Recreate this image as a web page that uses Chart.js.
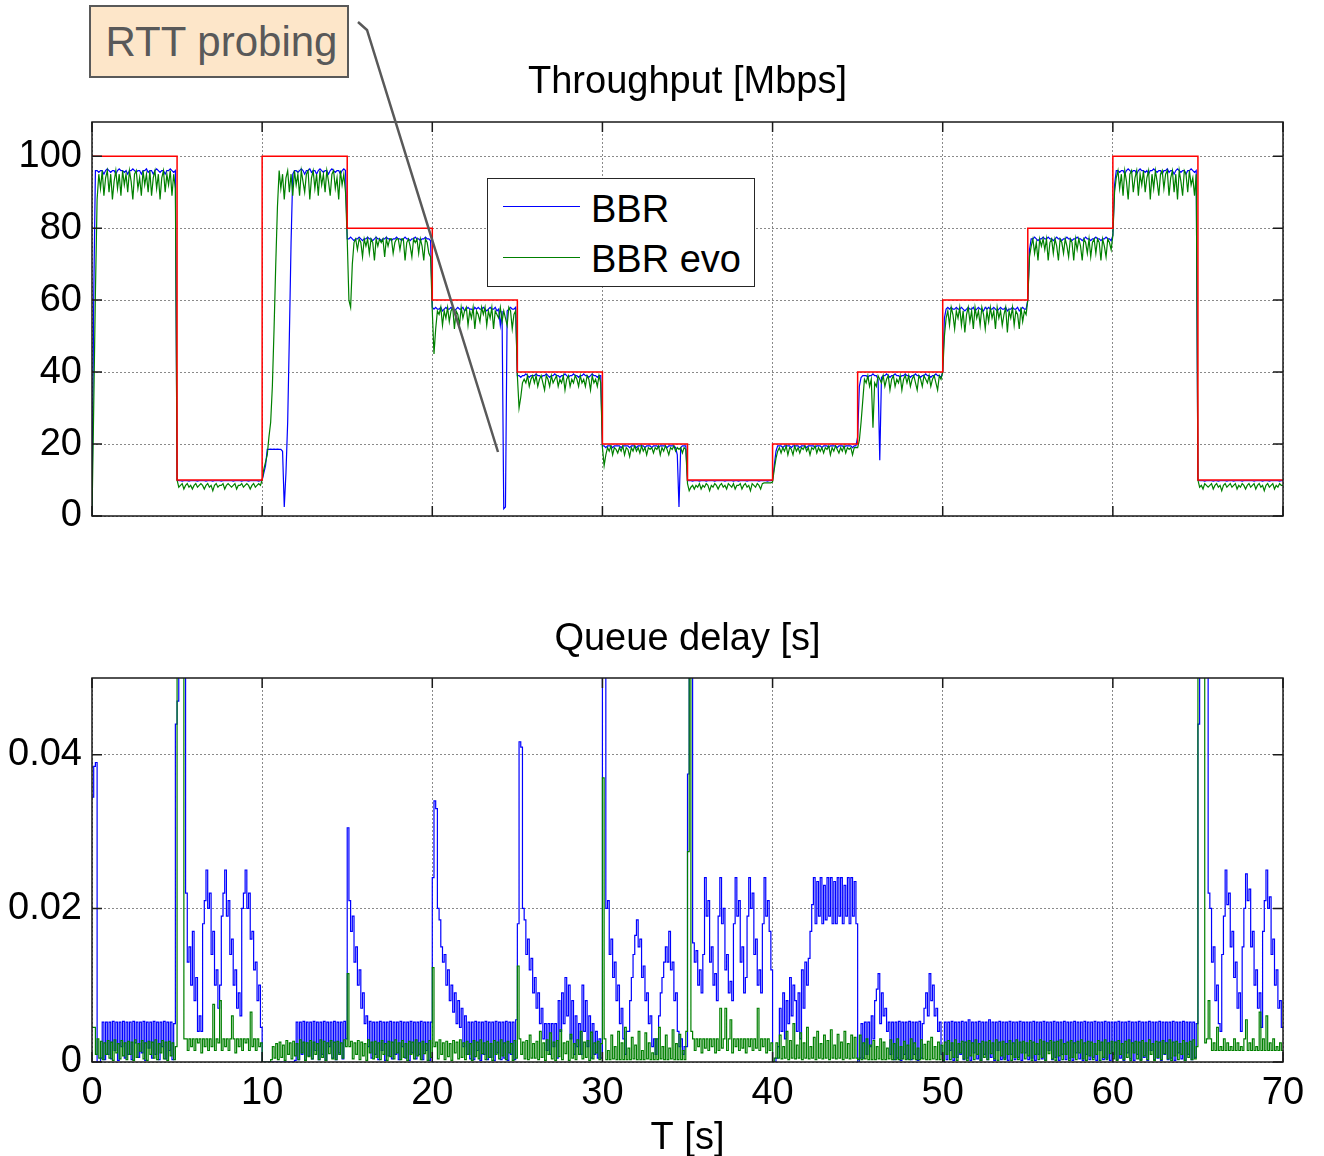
<!DOCTYPE html>
<html lang="en">
<head>
  <meta charset="UTF-8">
  <title>BBR vs BBR evo</title>
  <script src="https://cdn.jsdelivr.net/npm/chart.js"></script>
  <style>
    body { margin: 0; background: #fff; }
    #wrap { position: relative; width: 1324px; height: 1156px; font-family: "Liberation Sans", Arial, sans-serif; }
    #wrap canvas { position: absolute; left: 0; }
    #tput { top: 0; }
    #delay { top: 560px; }
    .legend { position: absolute; left: 487px; top: 178px; width: 268px; height: 109px; box-sizing: border-box;
              border: 1.5px solid #262626; background: #fff; }
    .legend .ln { position: absolute; left: 15px; width: 77px; height: 0; border-top: 1px solid; }
    .legend .tx { position: absolute; left: 103px; font-size: 38px; line-height: 38px; color: #000; white-space: nowrap; }
    .note { position: absolute; left: 89px; top: 5px; width: 260px; height: 73px; box-sizing: border-box;
            border: 2px solid #595959; background: #fde6c9; color: #595959; font-size: 42px; line-height: 42px;
            display: flex; align-items: center; justify-content: center; padding-left: 5px; }
    #arrow { position: absolute; left: 0; top: 0; pointer-events: none; }
  </style>
</head>
<body>
<div id="wrap">
  <canvas id="tput" width="1324" height="560"></canvas>
  <canvas id="delay" width="1324" height="596"></canvas>

  <div class="legend">
    <div class="ln" style="top:27px;border-color:#0000ff"></div>
    <div class="tx" style="top:11px">BBR</div>
    <div class="ln" style="top:78px;border-color:#008000"></div>
    <div class="tx" style="top:61px">BBR evo</div>
  </div>

  <div class="note">RTT probing</div>
  <svg id="arrow" width="1324" height="1156">
    <polyline points="358,22 367,30 498,452" fill="none" stroke="#595959" stroke-width="2.5"/>
  </svg>
</div>

<script>
  // sample spacing of the measured series [s]
  const DT = 0.1;

  // bottleneck capacity, one value per 5 s phase [Mbps]
  const PHASE_LEN = 5;
  const CAPACITY = [100, 10, 100, 80, 60, 40, 20, 10, 20, 40, 60, 80, 100, 10];

  const TIME_TICKS = [0, 10, 20, 30, 40, 50, 60, 70];
  const TPUT_TICKS = [0, 20, 40, 60, 80, 100];
  const DELAY_TICKS = [0, 0.02, 0.04];

  // BBR throughput [Mbps], one row per second
  const BBR_TPUT = [
    0, 60, 96, 96, 95.5, 96, 96, 95, 96, 96.5,
    96, 95.5, 96, 96, 95, 96, 96.5, 96, 96, 95.5,
    96, 95, 96, 96, 96.5, 96, 95.5, 96, 96, 95,
    96, 96, 96.5, 95.5, 96, 96, 95, 96, 96.5, 96,
    95.5, 96, 96, 95, 96, 96, 96.5, 96, 95.5, 96,
    10, 9.8, 9.8, 9.7, 9.8, 9.8, 9.8, 9.7, 9.8, 9.8,
    9.8, 9.8, 9.7, 9.8, 9.8, 9.8, 9.8, 9.7, 9.8, 9.8,
    9.8, 9.7, 9.8, 9.8, 9.8, 9.8, 9.7, 9.8, 9.8, 9.8,
    9.8, 9.8, 9.8, 9.7, 9.8, 9.8, 9.8, 9.8, 9.7, 9.8,
    9.8, 9.8, 9.7, 9.8, 9.8, 9.8, 9.8, 9.8, 9.7, 9.8,
    10, 12, 14, 18.5, 18.5, 18.6, 18.5, 18.6, 18.5, 18.6,
    18.5, 18.5, 18, 2.5, 12, 26, 50, 76, 95, 96,
    96, 95.5, 96, 96.5, 96, 95, 96, 96, 96.5, 95.5,
    96, 96, 95, 96, 96.5, 96, 95.5, 96, 96, 95,
    96, 96.5, 96, 95.5, 96, 96, 95, 96, 96.5, 96,
    77, 77, 77.5, 77, 76.5, 77, 77, 77.5, 77, 76.5,
    77, 77, 77.5, 77, 77, 76.5, 77, 77.5, 77, 77,
    76.5, 77, 77, 77.5, 77, 77, 76.5, 77, 77, 77.5,
    77, 77, 76.5, 77, 77.5, 77, 77, 76.5, 77, 77,
    77.5, 77, 77, 76.5, 77, 77, 77.5, 77, 77, 76.5,
    58, 57.5, 58, 57.5, 57.5, 58, 57, 57.5, 58, 57.5,
    57.5, 58, 57.5, 57, 57.5, 58, 57.5, 57.5, 58, 57,
    57.5, 58, 57.5, 57.5, 57, 58, 57.5, 58, 57.5, 57.5,
    58, 57.5, 57, 57.5, 58, 57.5, 57.5, 58, 57, 57.5,
    53, 57, 2, 2.5, 57, 57.5, 58, 57.5, 57.5, 58,
    39, 39, 38.5, 39, 39, 39.5, 39, 38.5, 39, 39,
    39, 39.5, 39, 39, 38.5, 39, 39, 39.5, 39, 38.5,
    39, 39, 39.5, 39, 39, 38.5, 39, 39, 39.5, 39,
    38.5, 39, 39, 39.5, 39, 39, 38.5, 39, 39, 39.5,
    39, 39, 38.5, 39, 39.5, 39, 39, 38.5, 39, 39,
    19.5, 19.5, 19, 19.5, 19.5, 19.5, 19, 19.5, 19.5, 19.5,
    19.5, 19, 19.5, 19.5, 19.5, 19.5, 19, 19.5, 19.5, 19.5,
    19, 19.5, 19.5, 19.5, 19.5, 19, 19.5, 19.5, 19.5, 19,
    19.5, 19.5, 19.5, 19, 19.5, 19.5, 19.5, 19.5, 19, 19.5,
    19.5, 19.5, 19.5, 19, 17, 2.5, 19, 19.5, 19.5, 19.5,
    9.8, 9.8, 9.8, 9.7, 9.8, 9.8, 9.8, 9.7, 9.8, 9.8,
    9.8, 9.7, 9.8, 9.8, 9.8, 9.8, 9.7, 9.8, 9.8, 9.8,
    9.8, 9.8, 9.7, 9.8, 9.8, 9.8, 9.8, 9.7, 9.8, 9.8,
    9.7, 9.8, 9.8, 9.8, 9.8, 9.7, 9.8, 9.8, 9.8, 9.8,
    9.8, 9.8, 9.7, 9.8, 9.8, 9.8, 9.8, 9.7, 9.8, 9.8,
    10, 14, 18, 19.5, 19.5, 19.5, 19, 19.5, 19.5, 19.5,
    19.5, 19, 19.5, 19.5, 19.5, 19.5, 19, 19.5, 19.5, 19.5,
    19, 19.5, 19.5, 19.5, 19.5, 19, 19.5, 19.5, 19.5, 19,
    19.5, 19.5, 19.5, 19, 19.5, 19.5, 19.5, 19.5, 19, 19.5,
    19.5, 19.5, 19, 19.5, 19.5, 19.5, 19.5, 19, 19.5, 19.5,
    22, 36, 38.5, 39, 39, 39, 38.5, 39, 39, 39.5,
    39, 39, 38, 15.5, 38.5, 39, 39, 39.5, 39, 38.5,
    39, 39, 39.5, 39, 39, 38.5, 39, 39, 39.5, 39,
    39, 38.5, 39, 39, 39.5, 39, 39, 38.5, 39, 39,
    39.5, 39, 39, 38.5, 39, 39, 39.5, 39, 39, 38.5,
    40, 55, 57.5, 58, 57.5, 58, 57.5, 57.5, 58, 57.5,
    57.5, 58, 57.5, 57, 57.5, 58, 57.5, 57.5, 58, 57,
    57.5, 58, 57.5, 57.5, 57, 58, 57.5, 58, 57.5, 57.5,
    58, 57.5, 57, 57.5, 58, 57.5, 57.5, 58, 57, 57.5,
    57.5, 58, 57.5, 57.5, 58, 57, 57.5, 58, 57.5, 57.5,
    60, 74, 77, 77, 77.5, 77, 76.5, 77, 77, 77.5,
    77, 77, 77.5, 77, 77, 76.5, 77, 77.5, 77, 77,
    76.5, 77, 77, 77.5, 77, 77, 76.5, 77, 77, 77.5,
    77, 77, 76.5, 77, 77.5, 77, 77, 76.5, 77, 77,
    77.5, 77, 77, 76.5, 77, 77, 77.5, 77, 77, 76.5,
    78, 92, 96, 96, 95.5, 96, 96, 95, 96, 96.5,
    96, 95.5, 96, 96, 95, 96, 96.5, 96, 96, 95.5,
    96, 95, 96, 96, 96.5, 96, 95.5, 96, 96, 95,
    96, 96, 96.5, 95.5, 96, 96, 95, 96, 96.5, 96,
    95.5, 96, 96, 95, 96, 96, 96.5, 96, 95.5, 96,
    10, 9.8, 9.8, 9.8, 9.7, 9.8, 9.8, 9.8, 9.8, 9.7,
    9.8, 9.8, 9.7, 9.8, 9.8, 9.8, 9.8, 9.7, 9.8, 9.8,
    9.8, 9.7, 9.8, 9.8, 9.8, 9.8, 9.7, 9.8, 9.8, 9.8,
    9.8, 9.8, 9.8, 9.7, 9.8, 9.8, 9.8, 9.8, 9.7, 9.8,
    9.8, 9.8, 9.7, 9.8, 9.8, 9.8, 9.8, 9.8, 9.7, 9.8,
    9.8
  ];

  // BBR evo throughput [Mbps]
  const EVO_TPUT = [
    0, 30, 62, 88, 95, 91, 96, 89, 94, 96,
    90, 95, 88, 93, 96, 91, 95, 89, 96, 92,
    95, 90, 96, 93, 88, 95, 96, 91, 94, 89,
    96, 92, 95, 90, 96, 89, 94, 96, 91, 95,
    88, 94, 96, 90, 95, 92, 96, 89, 95, 91,
    10, 8, 8.5, 9, 7.5, 8.5, 9, 8, 8.5, 7.5,
    8.5, 9, 8, 8.5, 9, 8.5, 7.5, 8.5, 9, 8,
    8.5, 7, 8.5, 9, 8, 8.5, 8.5, 9, 7.5, 8.5,
    9, 8.5, 8, 8.5, 9, 7.5, 8.5, 8.5, 9, 8,
    8.5, 9, 8.5, 7.5, 8.5, 9, 8, 8.5, 9, 8.5,
    10, 13, 15, 17, 22, 26, 36, 52, 70, 86,
    96, 91, 95, 88, 94, 96, 90, 95, 89, 96,
    92, 95, 89, 96, 93, 90, 95, 96, 88, 94,
    96, 91, 95, 89, 96, 92, 95, 90, 96, 93,
    89, 95, 96, 91, 94, 88, 96, 92, 95, 90,
    77, 60, 58, 70, 76, 77, 74, 77, 76, 72,
    77, 75, 77, 73, 77, 76, 71, 77, 75, 77,
    76, 77, 72, 77, 75, 77, 77, 73, 76, 77,
    77, 74, 77, 77, 71, 76, 77, 75, 72, 77,
    76, 77, 73, 77, 75, 71, 77, 76, 73, 72,
    57, 45, 52, 57, 56, 58, 53, 57, 55, 58,
    54, 57, 58, 52, 57, 56, 53, 58, 55, 57,
    58, 53, 57, 55, 58, 52, 57, 56, 54, 58,
    56, 58, 53, 57, 55, 58, 52, 57, 56, 55,
    58, 54, 57, 55, 53, 58, 57, 52, 56, 57,
    39, 30, 33, 37, 38, 37, 39, 36, 38, 39,
    37, 39, 36, 38, 39, 37, 35, 39, 38, 36,
    39, 37, 38, 39, 36, 38, 37, 39, 35, 38,
    39, 36, 38, 37, 39, 38, 36, 39, 37, 38,
    36, 39, 38, 35, 39, 37, 38, 36, 39, 37,
    19, 14, 17, 19, 18, 19.5, 17, 19, 18.5, 17.5,
    19, 18, 19.5, 17, 19, 18.5, 16.5, 19, 18, 19.5,
    18, 19, 17.5, 19.5, 18, 19, 17, 19, 18.5, 19,
    17.5, 19, 18.5, 19.5, 17, 19, 18, 19.5, 18.5, 17,
    19, 18.5, 19.5, 18, 19, 18.5, 19, 17.5, 19, 18.5,
    9, 7, 8, 8.5, 7.5, 8.5, 8, 9, 7.5, 8.5,
    8, 9, 8.5, 7, 8.5, 8, 9, 8.5, 7.5, 8.5,
    9, 8, 8.5, 7.5, 9, 8.5, 8, 9, 7.5, 8.5,
    8.5, 9, 7.5, 8.5, 9, 8, 8.5, 7, 9, 8.5,
    8, 9, 8.5, 7.5, 9, 9.2, 9.2, 9.2, 9.2, 9.2,
    9.5, 13, 16, 18, 19, 17.5, 19, 18, 19.5, 17,
    19, 18.5, 17, 19.5, 18, 19, 17.5, 19, 18.5, 19.5,
    18, 19, 17, 19, 18.5, 19.5, 17.5, 19, 18, 19,
    17.5, 19, 18.5, 19.5, 17, 19, 18, 19.5, 18.5, 17.5,
    19, 18, 19.5, 17.5, 19, 18.5, 19, 17, 19, 19,
    19, 21, 26, 32, 38, 37, 39, 36, 38, 24.5,
    37, 36, 39, 38, 37, 39, 36, 38, 39, 35,
    38, 39, 36, 38, 37, 39, 35, 38, 39, 37,
    39, 36, 38, 39, 37, 35, 39, 38, 36, 39,
    38, 37, 39, 36, 38, 39, 37, 35, 39, 38,
    40, 50, 55, 57, 53, 58, 56, 52, 57, 55,
    58, 53, 57, 51, 56, 58, 54, 57, 52, 58,
    55, 57, 53, 58, 56, 52, 57, 54, 58, 55,
    57, 52, 58, 55, 57, 53, 56, 58, 51, 57,
    55, 58, 53, 57, 56, 52, 58, 54, 57, 56,
    60, 72, 75, 77, 73, 76, 71, 77, 75, 77,
    74, 77, 71, 76, 77, 73, 77, 75, 71, 77,
    76, 73, 77, 75, 72, 77, 76, 71, 77, 74,
    77, 75, 71, 77, 76, 73, 77, 72, 76, 77,
    73, 77, 76, 71, 77, 75, 72, 77, 76, 74,
    78, 90, 94, 96, 91, 95, 89, 96, 93, 88,
    95, 96, 90, 94, 96, 89, 95, 92, 96, 90,
    94, 96, 88, 95, 91, 96, 93, 89, 95, 96,
    91, 95, 96, 89, 94, 96, 90, 95, 88, 96,
    93, 89, 96, 95, 90, 96, 92, 94, 89, 95,
    10, 8, 8.5, 7.5, 9, 8.5, 8, 8.5, 9, 7.5,
    8.5, 9, 8, 8.5, 7, 8.5, 9, 8, 8.5, 9,
    8, 8.5, 9, 7.5, 8.5, 8, 9, 8.5, 7.5, 8.5,
    9, 8, 8.5, 9, 7.5, 8.5, 9, 8, 8.5, 7,
    8.5, 9, 8, 8.5, 9, 7.5, 8.5, 8, 9, 8.5,
    8.5
  ];

  // BBR queue delay [ms]
  const BBR_DELAY_MS = [
    34.5, 38.5, 39, 0, 0, 0.5, 5.2, 0.3, 5.2, 1,
    5.2, 0.4, 5.3, 1.5, 5.2, 0.2, 5.2, 2, 5.3, 0.5,
    5.2, 1, 5.2, 0.3, 5.3, 2.5, 5.2, 0.6, 5.2, 1.2,
    5.3, 0.2, 5.2, 1.8, 5.2, 0.5, 5.3, 1, 5.2, 0.3,
    5.2, 2, 5.3, 0.4, 5.2, 1.5, 5.2, 0.3, 5, 44,
    47, 80, 80, 80, 80, 22, 13, 15, 10, 17,
    8, 11, 4, 6, 4, 18, 21, 25, 20, 22,
    14, 17, 10, 12, 7, 10, 19, 22, 25, 19,
    21, 14, 16, 10, 12, 7, 9, 6, 20, 22,
    25, 20, 22, 16, 17, 12, 13, 8, 10, 4.5,
    0, 0, 0, 0, 0, 0, 0, 0, 0, 0,
    0, 0, 0, 0, 0, 0, 0, 0, 0, 0.2,
    5.2, 0.3, 5.2, 1, 5.3, 0.2, 5.2, 0.8, 5.2, 0.4,
    5.3, 1.5, 5.2, 0.3, 5.2, 1, 5.3, 0.2, 5.2, 2,
    5.2, 0.5, 5.3, 0.3, 5.2, 1.2, 5.2, 0.4, 5.3, 3,
    30.5, 21, 17, 19, 13, 15, 10, 12, 7, 9,
    5, 6, 2, 5.3, 0.5, 5.2, 1, 5.2, 0.3, 5.3,
    1.5, 5.2, 0.2, 5.2, 0.8, 5.3, 0.4, 5.2, 1, 5.2,
    0.3, 5.3, 2, 5.2, 0.5, 5.2, 0.2, 5.3, 1.2, 5.2,
    0.4, 5.2, 1, 5.3, 0.3, 5.2, 1.5, 5.2, 0.2, 5.2,
    24, 34, 33, 20, 18.5, 15, 13, 14, 10, 12,
    8, 10, 6.5, 9, 5, 8, 4.5, 7, 2, 6,
    1, 5.2, 0.4, 5.2, 0.3, 5.3, 1.5, 5.2, 0.2, 5.2,
    1, 5.3, 0.3, 5.2, 0.6, 5.2, 0.2, 5.3, 1.2, 5.2,
    0.3, 5.2, 0.5, 5.3, 0.2, 5.2, 1, 5.2, 0.3, 5.5,
    18, 41.7, 41, 20, 18.5, 14, 16, 12, 13.5, 9,
    11, 7, 9, 5, 7, 3, 5, 1.5, 5, 1,
    5, 2, 5, 0.5, 8, 4, 9, 5, 11, 6,
    10, 3, 8, 1, 6, 2, 5, 1, 10, 4,
    8, 2, 6, 0.5, 5, 1, 4, 0.5, 3, 0.5,
    60, 80, 20, 21, 14, 16, 11, 13, 8, 10,
    5, 7, 3, 1, 4, 4, 8, 11, 14, 16.5,
    18.5, 15, 16, 11, 12.5, 8, 9, 5, 6, 2,
    3, 1, 3, 6, 9, 11, 13, 15, 13, 17,
    12, 13, 8, 9, 4, 2, 3, 1, 2, 2,
    37.5, 80, 80, 15.5, 13, 14.5, 10, 12, 9, 14,
    24, 19, 21, 13, 15, 10, 11.5, 8, 19, 24,
    18, 20, 12, 14, 9, 10.5, 8, 18, 24, 19,
    21, 13, 15, 9, 11, 19, 24, 20, 22, 14,
    16, 10, 12, 9, 18, 24, 19, 21, 17, 12,
    0, 0, 0.5, 2, 7, 4, 9, 3, 8, 5,
    11, 6, 10, 8, 4, 9, 3, 12, 7, 13,
    10, 13.5, 17, 20.5, 24, 18, 23.5, 19, 24, 18,
    23, 18.5, 24, 19, 24, 18, 23.5, 18, 24, 19,
    24, 18, 23, 19, 24, 18, 24, 19, 23.5, 18,
    0, 0.5, 5, 0.5, 5.2, 1, 5.2, 2, 6, 3,
    8, 9.5, 11.5, 5, 9, 6, 7, 4, 5.2, 1,
    5.2, 0.3, 5.2, 0.5, 5.3, 0.2, 5.2, 1, 5.2, 0.4,
    5.3, 0.3, 5.2, 1, 5.2, 0.2, 5.3, 0.5, 5, 7,
    9, 6, 11.5, 8, 10, 6, 7, 4, 5.2, 1,
    0, 5.2, 0.3, 5.2, 1.5, 5.3, 0.2, 5.2, 0.6, 5.2,
    1, 5.3, 0.3, 5.2, 0.5, 5.5, 0.2, 5.2, 1.2, 5.2,
    0.4, 5.3, 0.2, 5.2, 1, 5.2, 0.3, 5.5, 0.6, 5.2,
    0.2, 5.2, 1.5, 5.3, 0.3, 5.2, 0.5, 5.2, 0.2, 5.3,
    1, 5.2, 0.3, 5.2, 0.6, 5.3, 0.2, 5.2, 1.2, 5.2,
    0.3, 5.2, 0.5, 5.3, 0.2, 5.2, 1, 5.2, 0.4, 5.3,
    0.2, 5.2, 1.5, 5.2, 0.3, 5.3, 0.6, 5.2, 0.2, 5.2,
    1, 5.3, 0.3, 5.2, 0.5, 5.2, 0.2, 5.3, 1.2, 5.2,
    0.4, 5.2, 0.2, 5.3, 1, 5.2, 0.3, 5.2, 0.6, 5.3,
    0.2, 5.2, 1.5, 5.2, 0.3, 5.3, 0.5, 5.2, 0.2, 5.2,
    1, 5.2, 0.3, 5.3, 0.5, 5.2, 0.2, 5.2, 1.2, 5.3,
    0.4, 5.2, 0.2, 5.2, 1, 5.3, 0.3, 5.2, 0.6, 5.2,
    0.2, 5.3, 1.5, 5.2, 0.3, 5.2, 0.5, 5.3, 0.2, 5.2,
    1, 5.2, 0.3, 5.2, 0.5, 5.3, 0.2, 5.2, 1.2, 5.2,
    0.4, 5.3, 0.2, 5.2, 1, 5.2, 0.3, 5.2, 0.6, 5,
    44, 80, 80, 80, 80, 80, 22, 20, 13, 15,
    8, 10, 5, 4, 14, 19, 25, 20.5, 22, 15,
    17, 11, 13, 7, 9, 4, 15, 20, 24.5, 21,
    22.5, 15, 17, 10, 12, 7, 9, 4.5, 17, 21,
    25, 20, 21.5, 14, 16, 10, 12, 7, 8, 4.5,
    4.5
  ];

  // BBR evo queue delay [ms]
  const EVO_DELAY_MS = [
    4.5, 4.5, 1, 3, 0.5, 2.7, 0.3, 2.5, 1, 2.8,
    0.5, 2.6, 0.2, 2.9, 1.2, 2.4, 0.4, 2.8, 0.8, 2.5,
    0.3, 2.7, 1, 2.6, 0.2, 2.9, 0.6, 2.4, 1.4, 2.8,
    0.4, 2.5, 0.2, 2.7, 1, 2.6, 0.5, 2.9, 0.3, 2.4,
    1.2, 2.8, 0.4, 2.6, 0.2, 2.7, 0.8, 2.5, 0.3, 2,
    80, 80, 80, 80, 3, 3, 1.5, 3, 2, 3,
    1.5, 3, 2.5, 3, 1.2, 3, 2, 3, 1.5, 3,
    2, 7.5, 1.5, 3, 2.5, 8, 1.5, 3, 2, 3,
    1.5, 3, 6, 3, 1.2, 3, 2, 3, 1.5, 3,
    2.5, 3, 1.5, 6.5, 2, 3, 1.5, 3, 2, 2.5,
    0, 0, 0, 0, 0, 0.3, 2, 0.5, 2.4, 0.3,
    2.6, 0.6, 2.2, 0.2, 2.8, 1, 2.5, 0.4, 2.7, 0.8,
    2.4, 0.3, 2.9, 1.2, 2.6, 0.2, 2.5, 0.7, 2.8, 0.4,
    2.6, 1, 2.4, 0.3, 2.9, 0.6, 2.7, 0.2, 2.5, 1.1,
    2.8, 0.4, 2.6, 0.3, 2.7, 1, 2.5, 0.5, 2.9, 2,
    11.5, 2, 2.7, 0.4, 2.5, 1, 2.8, 0.3, 2.6, 0.8,
    2.4, 0.2, 2.9, 1.2, 2.6, 0.4, 2.7, 0.6, 2.5, 0.3,
    2.8, 1, 2.4, 0.2, 2.7, 0.7, 2.6, 0.4, 2.9, 1.2,
    2.5, 0.3, 2.8, 0.6, 2.4, 0.2, 2.7, 1, 2.6, 0.4,
    2.9, 0.8, 2.5, 0.3, 2.7, 1.1, 2.4, 0.2, 2.8, 0.6,
    12.3, 2, 2.6, 0.4, 2.9, 1, 2.5, 0.3, 2.7, 0.7,
    2.4, 0.2, 2.8, 1.2, 2.6, 0.4, 2.9, 0.6, 2.5, 0.3,
    2.7, 1, 2.4, 0.2, 2.8, 0.7, 2.6, 0.4, 2.9, 1.1,
    2.5, 0.3, 2.7, 0.6, 2.4, 0.2, 2.8, 1, 2.6, 0.4,
    2.9, 0.8, 2.5, 0.3, 2.7, 1.2, 2.4, 0.2, 2.8, 0.5,
    12.5, 3, 1, 2.6, 0.4, 2.8, 0.3, 3.5, 0.5, 2.4,
    0.5, 2.7, 0.3, 4, 0.6, 2.5, 0.2, 2.9, 1, 3.8,
    0.4, 2.6, 0.2, 2.8, 0.7, 4.2, 0.3, 2.5, 1.1, 2.7,
    0.2, 3.6, 0.5, 2.4, 0.3, 2.9, 1, 4, 0.4, 2.6,
    0.6, 2.8, 0.2, 3.9, 0.4, 2.5, 1.2, 2.7, 0.3, 2.4,
    37, 3, 0.3, 1.5, 0.3, 3.5, 0.4, 2, 0.3, 4,
    0.3, 2.5, 0.3, 4.5, 0.3, 1.8, 0.3, 3.2, 0.4, 2.2,
    0.3, 4, 0.3, 1.5, 0.3, 3.8, 0.4, 2.5, 0.3, 1.2,
    0.3, 3, 0.3, 4.5, 0.4, 2, 0.3, 3.5, 0.3, 1.8,
    0.4, 4.2, 0.3, 2.4, 0.3, 3.6, 0.3, 1.5, 0.3, 4,
    27.4, 80, 4, 3, 1.5, 3, 2, 3, 1.2, 3,
    1.8, 3, 1.5, 3, 2, 3, 1.2, 3, 1.5, 7,
    1.8, 3, 7, 1.5, 3, 5.5, 1.2, 3, 2, 3,
    1.5, 3, 1.8, 3, 1.2, 3, 2, 3, 1.5, 3,
    1.8, 7, 1.5, 3, 2, 3, 1.2, 3, 1.5, 2.5,
    0, 0.5, 2.5, 0.5, 3.5, 0.4, 2, 0.5, 4, 0.3,
    2.8, 0.5, 5, 0.4, 2.2, 0.5, 3.8, 0.3, 2.5, 0.5,
    4.5, 0.4, 2, 0.5, 3.2, 0.3, 4, 0.5, 2.4, 0.4,
    3.5, 0.5, 2.8, 0.3, 4.2, 0.5, 2.2, 0.4, 3.6, 0.5,
    2.6, 0.3, 4, 0.5, 2.4, 0.4, 3.5, 0.5, 3.2, 0.5,
    0.3, 3.5, 0.3, 2.5, 0.4, 3, 0.3, 2.2, 0.3, 2.8,
    0.3, 2, 0.4, 3, 0.3, 2.6, 0.3, 1.8, 0.4, 2.9,
    0.3, 2.4, 0.3, 3, 0.3, 2, 0.4, 2.7, 0.3, 2.2,
    0.3, 3, 0.4, 2.5, 0.3, 1.8, 0.3, 2.9, 0.4, 2.3,
    0.3, 2.7, 0.3, 3.2, 0.4, 2, 0.3, 2.6, 0.3, 2.2,
    0.2, 2.6, 1, 2.8, 0.3, 2.5, 0.6, 2.9, 0.2, 2.4,
    1.2, 2.7, 0.4, 2.6, 0.2, 2.8, 0.8, 2.5, 0.3, 2.9,
    1, 2.4, 0.2, 2.7, 0.6, 2.6, 0.3, 2.8, 1.1, 2.5,
    0.4, 2.9, 0.2, 2.6, 0.8, 2.7, 0.3, 2.4, 1, 2.8,
    0.2, 2.5, 0.6, 2.9, 0.3, 2.6, 1.2, 2.7, 0.4, 2.5,
    0.8, 2.8, 0.2, 2.6, 1, 2.4, 0.3, 2.9, 0.6, 2.7,
    0.2, 2.5, 1.1, 2.8, 0.4, 2.6, 0.2, 2.7, 0.8, 2.9,
    0.3, 2.4, 1, 2.6, 0.2, 2.8, 0.6, 2.5, 0.3, 2.7,
    1.2, 2.9, 0.4, 2.5, 0.2, 2.7, 0.8, 2.6, 0.3, 2.4,
    1, 2.8, 0.2, 2.6, 0.6, 2.9, 0.3, 2.5, 1.1, 2.7,
    0.4, 2.6, 0.2, 2.8, 1, 2.4, 0.3, 2.7, 0.6, 2.9,
    0.2, 2.5, 1.2, 2.7, 0.4, 2.6, 0.2, 2.8, 0.8, 2.5,
    0.3, 2.9, 1, 2.4, 0.2, 2.7, 0.6, 2.6, 0.3, 2.8,
    1.1, 2.5, 0.4, 2.9, 0.2, 2.6, 0.8, 2.7, 0.3, 2.4,
    1, 2.8, 0.2, 2.5, 0.6, 2.7, 0.3, 2.9, 0.4, 2,
    80, 80, 80, 80, 2.5, 3, 8, 3, 1.5, 2.5,
    1.5, 4.5, 1.5, 2, 1.5, 3, 1.5, 2.5, 1.5, 2,
    1.5, 3, 1.5, 2.5, 1.5, 2, 1.5, 3, 5.5, 1.5,
    2.5, 1.5, 3, 1.5, 2, 1.5, 6.5, 1.5, 3, 1.5,
    6, 1.5, 2.5, 1.5, 3, 1.5, 2, 1.5, 2.5, 1.5,
    1.5
  ];

  const BLUE = '#0000ff', GREEN = '#008000', RED = '#ff0000';

  Chart.defaults.font.family = '"Liberation Sans", Arial, sans-serif';
  Chart.defaults.color = '#000';

  const toPoints = (vals, k = 1) => vals.map((v, i) => ({ x: Math.round(i * DT * 10) / 10, y: v * k }));

  const capPoints = CAPACITY.map((v, i) => ({ x: i * PHASE_LEN, y: v }))
    .concat([{ x: CAPACITY.length * PHASE_LEN, y: CAPACITY[CAPACITY.length - 1] }]);

  // box around the plot area with small inward ticks on every side
  const frame = {
    id: 'frame',
    afterDatasetsDraw(chart) {
      const { ctx, chartArea: a, scales } = chart;
      const len = 10;
      ctx.save();
      ctx.strokeStyle = '#1a1a1a';
      ctx.lineWidth = 1.5;
      ctx.strokeRect(a.left, a.top, a.right - a.left, a.bottom - a.top);
      ctx.beginPath();
      scales.x.ticks.forEach(t => {
        const px = scales.x.getPixelForValue(t.value);
        ctx.moveTo(px, a.bottom); ctx.lineTo(px, a.bottom - len);
        ctx.moveTo(px, a.top); ctx.lineTo(px, a.top + len);
      });
      scales.y.ticks.forEach(t => {
        const py = scales.y.getPixelForValue(t.value);
        ctx.moveTo(a.left, py); ctx.lineTo(a.left + len, py);
        ctx.moveTo(a.right, py); ctx.lineTo(a.right - len, py);
      });
      ctx.stroke();
      ctx.restore();
    }
  };

  const gridOpts = { color: '#8a8a8a', lineWidth: 1, drawTicks: false };
  const borderOpts = { display: false, dash: [2, 2] };
  const tickFont = { size: 38, lineHeight: 1 };

  function lineSet(label, data, color, order, extra) {
    return Object.assign({
      label, data, order,
      borderColor: color, borderWidth: 1.2,
      pointRadius: 0, tension: 0, fill: false
    }, extra || {});
  }

  // throughput panel
  new Chart(document.getElementById('tput'), {
    type: 'line',
    data: {
      datasets: [
        lineSet('Capacity', capPoints, RED, 0, { stepped: true, borderWidth: 1.5 }),
        lineSet('BBR evo', toPoints(EVO_TPUT), GREEN, 1),
        lineSet('BBR', toPoints(BBR_TPUT), BLUE, 2)
      ]
    },
    options: {
      responsive: false,
      animation: false,
      events: [],
      layout: { padding: { left: 0, right: 41, top: 0, bottom: 0 } },
      plugins: {
        legend: { display: false },
        tooltip: { enabled: false },
        title: {
          display: true, text: 'Throughput [Mbps]', fullSize: false,
          font: { size: 38, weight: 'normal', lineHeight: 1 },
          padding: { top: 64, bottom: 20 }, color: '#000'
        }
      },
      scales: {
        x: {
          type: 'linear', min: 0, max: 70,
          afterBuildTicks: s => { s.ticks = TIME_TICKS.map(v => ({ value: v })); },
          afterFit: s => { s.height = 44; },
          ticks: { display: false },
          grid: gridOpts, border: borderOpts
        },
        y: {
          type: 'linear', min: 0, max: 109.5,
          afterBuildTicks: s => { s.ticks = TPUT_TICKS.map(v => ({ value: v })); },
          afterFit: s => { s.width = 92; },
          ticks: { font: tickFont, padding: 10, callback: v => String(v) },
          grid: gridOpts, border: borderOpts
        }
      }
    },
    plugins: [frame]
  });

  // queue delay panel
  new Chart(document.getElementById('delay'), {
    type: 'line',
    data: {
      datasets: [
        lineSet('BBR evo', toPoints(EVO_DELAY_MS, 0.001), GREEN, 1, { stepped: true }),
        lineSet('BBR', toPoints(BBR_DELAY_MS, 0.001), BLUE, 2, { stepped: true })
      ]
    },
    options: {
      responsive: false,
      animation: false,
      events: [],
      layout: { padding: { left: 0, right: 41, top: 0, bottom: 0 } },
      plugins: {
        legend: { display: false },
        tooltip: { enabled: false },
        title: {
          display: true, text: 'Queue delay [s]', fullSize: false,
          font: { size: 38, weight: 'normal', lineHeight: 1 },
          padding: { top: 61, bottom: 19 }, color: '#000'
        }
      },
      scales: {
        x: {
          type: 'linear', min: 0, max: 70,
          afterBuildTicks: s => { s.ticks = TIME_TICKS.map(v => ({ value: v })); },
          afterFit: s => { s.height = 94; },
          ticks: { font: tickFont, padding: 13, maxRotation: 0, autoSkip: false, callback: v => String(v) },
          title: {
            display: true, text: 'T [s]', color: '#000',
            font: { size: 38, lineHeight: 0.92 }, padding: { top: 0, bottom: 0 }
          },
          grid: gridOpts, border: borderOpts
        },
        y: {
          type: 'linear', min: 0, max: 0.05,
          afterBuildTicks: s => { s.ticks = DELAY_TICKS.map(v => ({ value: v })); },
          afterFit: s => { s.width = 92; },
          ticks: { font: tickFont, padding: 10, callback: v => String(v) },
          grid: gridOpts, border: borderOpts
        }
      }
    },
    plugins: [frame]
  });
</script>
</body>
</html>
